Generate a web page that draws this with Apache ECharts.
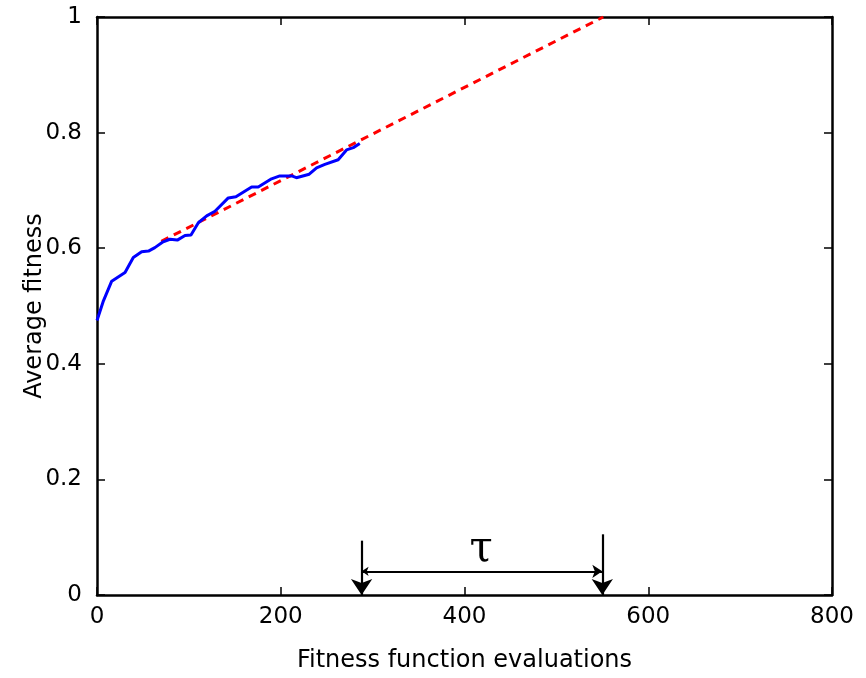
<!DOCTYPE html>
<html><head><meta charset="utf-8">
<script src="https://cdn.jsdelivr.net/npm/echarts@6/dist/echarts.min.js"></script>
<style>html,body{margin:0;padding:0;background:#fff}#c{width:866px;height:678px}</style>
</head><body><div id="c"></div>
<script>
var xTicks = [0, 200, 400, 600, 800];
var yTicks = [0, 0.2, 0.4, 0.6, 0.8, 1];
var avgX = [0, 7, 16, 30.5, 39.5, 48.6, 56, 63, 72, 79.4, 87.4, 95.8, 102.3, 110.3, 119.4, 128.4, 142.9, 151.2, 168.3, 175.5, 190, 199, 212, 217, 231, 239, 248, 262.5, 271.6, 279, 286];
var avgY = [0.475, 0.509, 0.543, 0.558, 0.584, 0.594, 0.595, 0.601, 0.611, 0.6155, 0.614, 0.622, 0.623, 0.644, 0.656, 0.664, 0.687, 0.689, 0.706, 0.706, 0.720, 0.725, 0.725, 0.722, 0.728, 0.739, 0.745, 0.753, 0.770, 0.774, 0.781];
var fitX = [70, 551];
var fitY = [0.612, 1.0];
var tauLeftX = 288, tauRightX = 550;
var tauLeftTop = 0.094, tauRightTop = 0.105, tauArrowY = 0.041;
var tauLabel = 'τ', tauLabelPos = [418, 0.078];

function zip(a, b) { return a.map(function (v, i) { return [v, b[i]]; }); }

var chart = echarts.init(document.getElementById('c'));
var tickFont = {fontFamily: 'DejaVu Sans', fontSize: 23, color: '#000'};
var nameFont = {fontFamily: 'DejaVu Sans', fontSize: 24, color: '#000'};
var lineStyle = {color: '#000', width: 2.5};
var tick = {show: true, inside: true, length: 8, lineStyle: {color: '#000', width: 1.5}};
chart.setOption({
  animation: false,
  grid: {left: 97, top: 17, right: 34, bottom: 81, show: false},
  xAxis: [{
    type: 'value', min: 0, max: 800, interval: 200, position: 'bottom',
    axisLine: {show: true, onZero: false, lineStyle: lineStyle},
    axisTick: tick, splitLine: {show: false},
    axisLabel: Object.assign({margin: 11, formatter: function (v) { return xTicks.indexOf(v) >= 0 ? String(v) : ''; }}, tickFont),
    name: 'Fitness function evaluations', nameLocation: 'middle', nameGap: 54, nameMoveOverlap: false,
    nameTextStyle: nameFont
  }, {
    type: 'value', min: 0, max: 800, interval: 200, position: 'top',
    axisLine: {show: true, onZero: false, lineStyle: lineStyle},
    axisTick: tick, splitLine: {show: false}, axisLabel: {show: false}
  }],
  yAxis: [{
    type: 'value', min: 0, max: 1, interval: 0.2, position: 'left',
    axisLine: {show: true, onZero: false, lineStyle: lineStyle},
    axisTick: tick, splitLine: {show: false},
    axisLabel: Object.assign({margin: 15, formatter: function (v) { var r = Math.round(v * 10) / 10; return r === 0 ? '0' : (r === 1 ? '1' : r.toFixed(1)); }}, tickFont),
    name: 'Average fitness', nameLocation: 'middle', nameGap: 50, nameRotate: 90, nameMoveOverlap: false,
    nameTextStyle: nameFont
  }, {
    type: 'value', min: 0, max: 1, interval: 0.2, position: 'right',
    axisLine: {show: true, onZero: false, lineStyle: lineStyle},
    axisTick: tick, splitLine: {show: false}, axisLabel: {show: false}
  }],
  series: [{
    type: 'line', data: zip(fitX, fitY), showSymbol: false, symbol: 'none',
    lineStyle: {color: '#ff0000', width: 3, type: [8, 6]}, z: 3
  }, {
    type: 'line', data: zip(avgX, avgY), showSymbol: false, symbol: 'none',
    lineStyle: {color: '#0000ff', width: 3}, z: 4
  }, {
    type: 'lines', coordinateSystem: 'cartesian2d', z: 5,
    symbol: ['none', 'arrow'], symbolSize: [11, 16],
    lineStyle: {color: '#000', width: 2.2, opacity: 1},
    data: [
      {coords: [[tauLeftX, tauLeftTop], [tauLeftX, 0]]},
      {coords: [[tauRightX, tauRightTop], [tauRightX, 0]]}
    ]
  }, {
    type: 'lines', coordinateSystem: 'cartesian2d', z: 5,
    symbol: ['arrow', 'arrow'], symbolSize: [7, 10],
    lineStyle: {color: '#000', width: 2.2, opacity: 1},
    data: [{coords: [[tauLeftX, tauArrowY], [tauRightX, tauArrowY]]}]
  }, {
    type: 'scatter', symbolSize: 0, z: 6,
    itemStyle: {opacity: 1},
    data: [tauLabelPos],
    label: {show: true, position: 'inside', formatter: tauLabel, fontFamily: 'DejaVu Serif', fontSize: 42, color: '#000', textBorderWidth: 0, opacity: 1}
  }]
});
</script></body></html>
